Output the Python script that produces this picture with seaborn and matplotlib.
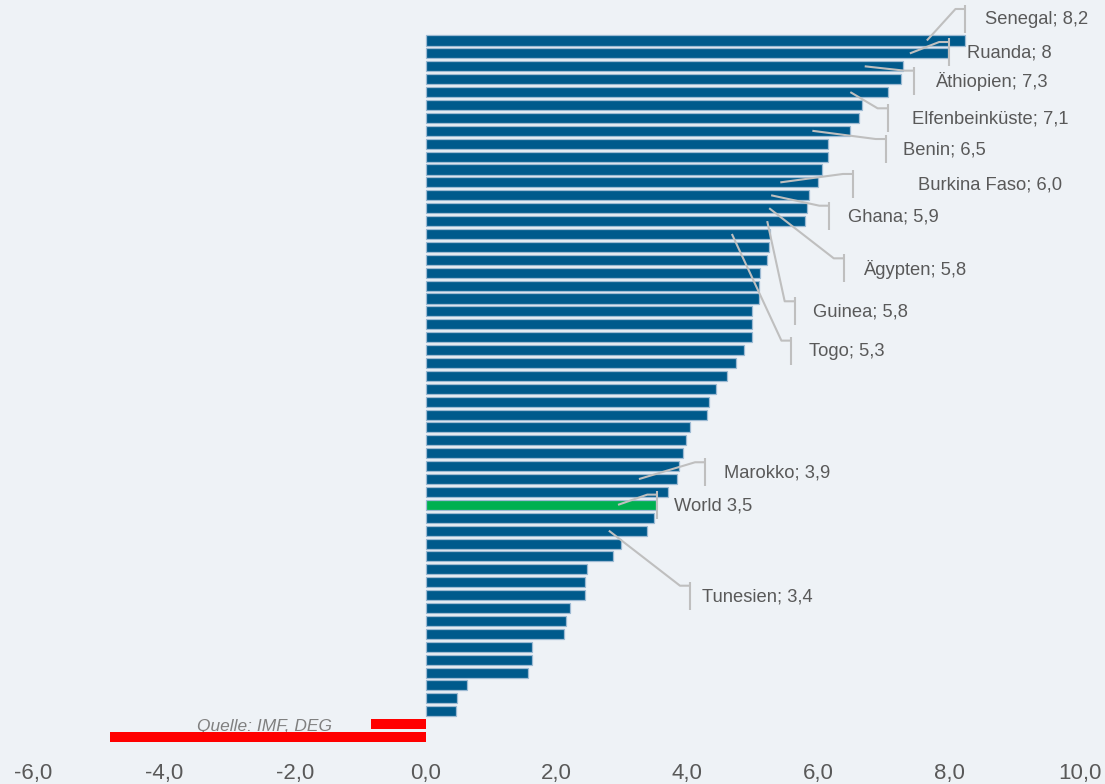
import pandas as pd
import matplotlib.pyplot as plt
import seaborn as sns
from matplotlib.ticker import FuncFormatter

# growth values, sorted from top bar to bottom bar
values = [8.24, 7.98, 7.29, 7.26, 7.07, 6.67, 6.63, 6.49, 6.15, 6.15,
          6.05, 6.00, 5.86, 5.83, 5.80, 5.26, 5.25, 5.21, 5.11, 5.10,
          5.09, 4.98, 4.98, 4.98, 4.86, 4.74, 4.61, 4.44, 4.33, 4.30,
          4.04, 3.98, 3.93, 3.87, 3.84, 3.70, 3.52, 3.49, 3.38, 2.99,
          2.86, 2.46, 2.44, 2.43, 2.20, 2.14, 2.12, 1.63, 1.62, 1.56,
          0.63, 0.48, 0.47, -0.84, -4.83]
world_index = 36

# labelled bars: (text, bar index)
label_texts = ["Senegal; 8,2", "Ruanda; 8", "Äthiopien; 7,3", "Elfenbeinküste; 7,1",
               "Benin; 6,5", "Burkina Faso; 6,0", "Ghana; 5,9", "Ägypten; 5,8",
               "Guinea; 5,8", "Togo; 5,3", "Marokko; 3,9", "World 3,5", "Tunesien; 3,4"]
label_bars = [0, 1, 2, 4, 7, 11, 12, 13, 14, 15, 34, 36, 38]

# label placement (data units): text left x, text centre y, bracket x
label_x = [8.55, 8.27, 7.78, 7.44, 7.29, 7.52, 6.45, 6.69, 5.92, 5.86, 4.56, 3.79, 4.22]
label_y = [-1.59, 0.97, 3.19, 6.11, 8.49, 11.2, 13.66, 17.74, 21.07, 24.12, 33.55, 36.06, 43.12]
bracket_x = [8.25, 8.00, 7.47, 7.06, 7.03, 6.53, 6.17, 6.39, 5.64, 5.59, 4.27, 3.54, 4.04]

ticks = [-6, -4, -2, 0, 2, 4, 6, 8, 10]

BG = "#EEF2F6"
BLUE = "#005A8C"
GREEN = "#00B050"
RED = "#FF0000"
GREY_TXT = "#595959"
LEADER = "#BFBFBF"


def group_of(i, v):
    if i == world_index:
        return "World"
    if v < 0:
        return "neg"
    return "Land"


def main():
    df = pd.DataFrame({
        "key": [str(i) for i in range(len(values))],
        "wert": values,
    })
    df["gruppe"] = [group_of(i, v) for i, v in enumerate(values)]

    sns.set_theme(style="white")
    plt.rcParams["font.family"] = ["Liberation Sans", "DejaVu Sans"]

    fig = plt.figure(figsize=(11.05, 7.84), dpi=100, facecolor=BG)
    ax = fig.add_axes([33 / 1105, 32 / 784, 1047 / 1105, 752 / 784])
    ax.set_facecolor(BG)

    sns.barplot(
        data=df, x="wert", y="key", hue="gruppe", orient="h",
        palette={"Land": BLUE, "World": GREEN, "neg": RED},
        dodge=False, width=0.78, legend=False, ax=ax,
        edgecolor="#9DBAD3", linewidth=0.9, saturation=1,
    )
    for p in ax.patches:
        if p.get_width() < 0:
            p.set_linewidth(0)

    ax.set_xlim(-6, 10)
    ax.set_ylim(55.16, -3.14)
    ax.set_xticks(ticks)
    ax.xaxis.set_major_formatter(FuncFormatter(lambda v, _: f"{v:.1f}".replace(".", ",")))
    ax.tick_params(axis="x", labelsize=16, labelcolor=GREY_TXT, length=0, pad=8)
    ax.set_yticks([])
    ax.set_xlabel("")
    ax.set_ylabel("")
    for s in ax.spines.values():
        s.set_visible(False)

    # leader lines with bracket, like the spreadsheet data labels
    dx = 1 / 65.4
    dy = 1 / 12.9
    for txt, b, tx, ty, bx in zip(label_texts, label_bars, label_x, label_y, bracket_x):
        yc = ty - 1 * dy
        yh = yc - 10 * dy
        x0 = values[b] - 0.58
        ax.plot([x0, bx - 10 * dx, bx], [b, yh, yh], color=LEADER, lw=1.5,
                solid_capstyle="butt", clip_on=False, zorder=3)
        ax.plot([bx, bx], [yc - 14 * dy, yc + 14 * dy], color=LEADER, lw=1.5,
                solid_capstyle="butt", clip_on=False, zorder=3)
        ax.text(tx, ty, txt, fontsize=13.2, color=GREY_TXT, ha="left", va="center",
                clip_on=False, zorder=4)

    # source note, partly hidden behind the red bar
    ax.text(-3.49, 53.56, "Quelle: IMF, DEG", fontsize=12.5, color="#808080",
            style="italic", ha="left", va="baseline", zorder=0.5)

    fig.savefig("out.png", dpi=100, facecolor=BG)


if __name__ == "__main__":
    main()
